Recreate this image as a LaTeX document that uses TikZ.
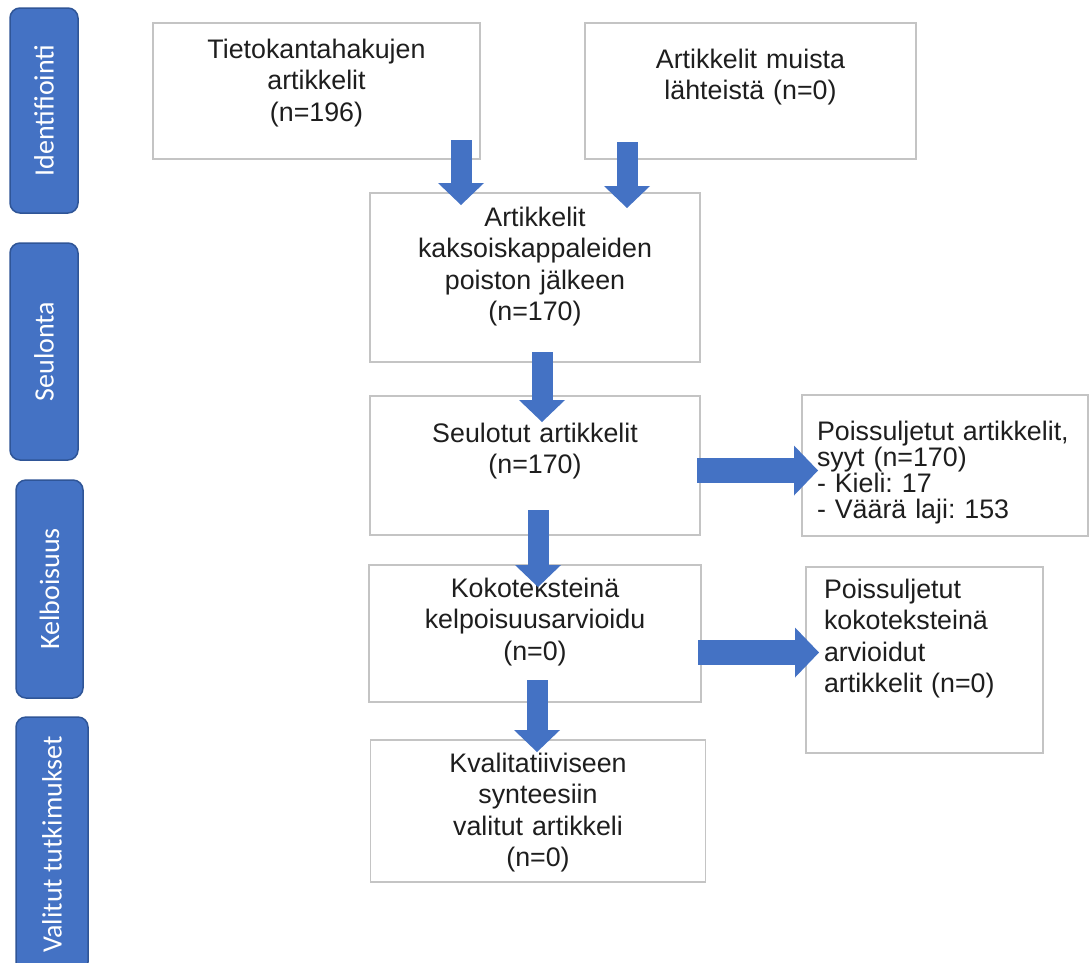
\documentclass[tikz,border=0pt]{standalone}
\usepackage{fontspec}
\setmainfont{Liberation Sans}
\newfontfamily\bandfont{Carlito}
\usetikzlibrary{positioning,arrows.meta,calc}
\definecolor{flowblue}{RGB}{68,114,196}
\definecolor{bandline}{RGB}{47,85,151}
\definecolor{boxline}{RGB}{196,196,196}
\definecolor{inkgray}{RGB}{30,30,30}
\frenchspacing
\tikzset{
  blk/.style={draw=boxline,line width=1.5pt,fill=white,text=inkgray,align=center,
    font=\fontsize{26.8pt}{31.5pt}\selectfont,inner xsep=4pt,inner ysep=0pt,outer sep=0pt},
  side/.style={blk,align=left},
  band/.style={draw=bandline,line width=1.5pt,fill=flowblue,rounded corners=10pt,text=white,
    font=\bandfont\fontsize{28pt}{32pt}\selectfont,rotate=90,inner sep=0pt},
  dflow/.style={-{Triangle[width=46pt,length=22pt,line width=0pt]},line width=21pt,flowblue},
  rflow/.style={-{Triangle[width=50pt,length=24pt,line width=0pt]},line width=25pt,flowblue},
}
\begin{document}
\begin{tikzpicture}[x=1pt,y=-1pt]
\useasboundingbox (0,0) rectangle (1091,962);
\clip (0,0) rectangle (1091,962);
% vaiheet
\node[band,minimum width=205pt,minimum height=68pt] (ident) at (44,110.5) {Identifiointi};
\node[band,minimum width=217pt,minimum height=68pt] (seulonta) at (44,351.5) {Seulonta};
\node[band,minimum width=218pt,minimum height=67pt] (kelp) at (49.5,589) {Kelboisuus};
\node[band,minimum width=255pt,minimum height=72pt] (valitut) at (52,844.5) {Valitut tutkimukset};
% laatikot
\node[blk,text width=319pt,text height=35pt,text depth=101pt,anchor=north west] (db) at (153,23) {Tietokantahakujen\\artikkelit\\(n=196)};
\node[blk,text width=323pt,text height=45pt,text depth=91pt,anchor=north west] (muut) at (585,23) {Artikkelit muista\\lähteistä (n=0)};
\node[blk,text width=322pt,text height=33pt,text depth=136pt,anchor=north west] (dup) at (370,193) {Artikkelit\\kaksoiskappaleiden\\poiston jälkeen\\(n=170)};
\node[blk,text width=322pt,text height=46pt,text depth=93pt,below=34pt of dup] (seul) {Seulotut artikkelit\\(n=170)};
\node[blk,text width=324pt,text height=32pt,text depth=105pt,below=30pt of seul] (koko) {Kokoteksteinä\\kelpoisuusarvioidu\\(n=0)};
\node[blk,text width=327pt,text height=32pt,text depth=110pt,below=38pt of koko,xshift=3pt] (kval) {Kvalitatiiviseen\\synteesiin\\valitut artikkeli\\(n=0)};
\node[side,font=\fontsize{26.8pt}{26pt}\selectfont,text width=256pt,inner xsep=15pt,text height=45pt,text depth=96pt,right=102pt of seul] (pois1) {Poissuljetut artikkelit,\\syyt (n=170)\\- Kieli: 17\\- Väärä laji: 153};
\node[side,text width=201pt,inner xsep=18pt,text height=31pt,text depth=155pt,below right=2pt and 105pt of koko.north east] (pois2) {Poissuljetut\\kokoteksteinä\\arvioidut\\artikkelit (n=0)};
% nuolet
\draw[dflow] ($(db.south east)+(-19pt,19pt)$) -- ($(db.south east |- dup.north)+(-19pt,-12pt)$);
\draw[dflow] ($(muut.south west)+(42pt,17pt)$) -- ($(muut.south west |- dup.north)+(42pt,-15pt)$);
\draw[dflow] ($(dup.south)+(7pt,10pt)$) -- ($(dup.south |- seul.north)+(7pt,-26pt)$);
\draw[dflow] ($(seul.south)+(3pt,25pt)$) -- ($(seul.south |- koko.north)+(3pt,-22pt)$);
\draw[dflow] ($(koko.south)+(2pt,22pt)$) -- ($(koko.south |- kval.north)+(2pt,-12pt)$);
\draw[rflow] ($(seul.east)+(-3pt,-5pt)$) -- ($(seul.east -| pois1.west)+(16pt,-5pt)$);
\draw[rflow] ($(koko.east)+(-3pt,-19pt)$) -- ($(koko.east -| pois2.west)+(13pt,-19pt)$);
\end{tikzpicture}
\end{document}
